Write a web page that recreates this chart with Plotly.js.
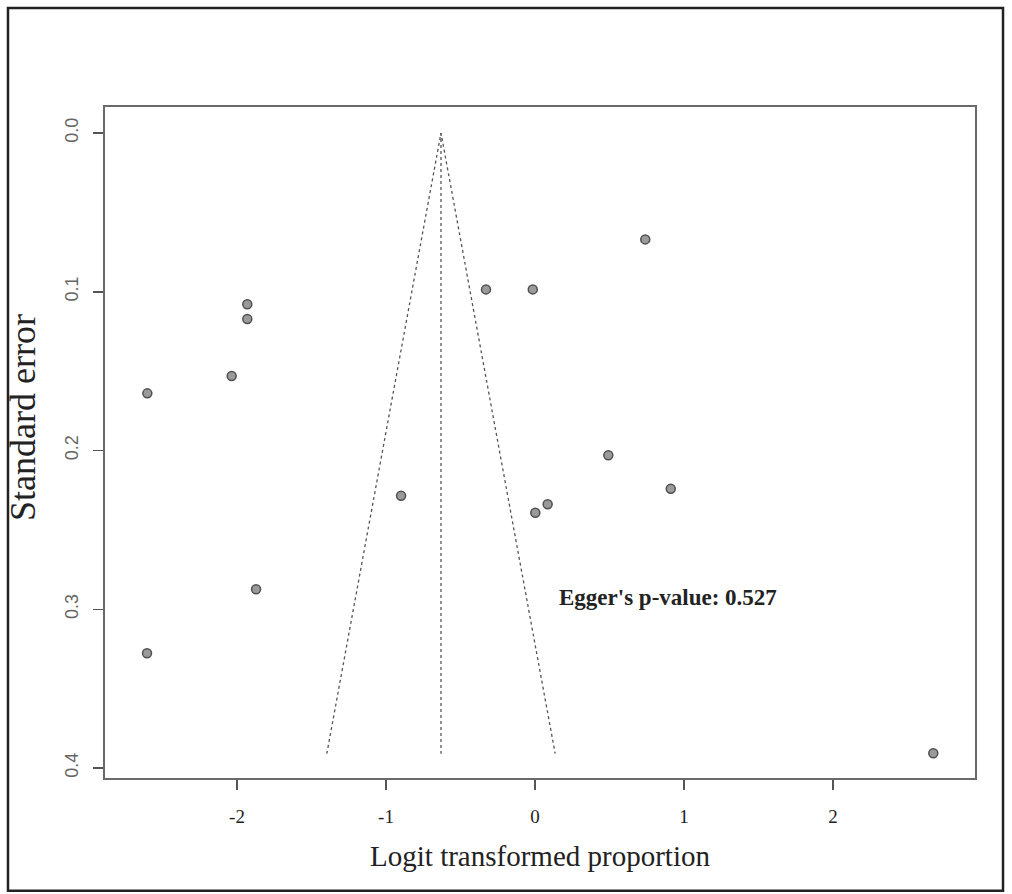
<!DOCTYPE html>
<html>
<head>
<meta charset="utf-8">
<script src="https://cdn.plot.ly/plotly-3.0.1.min.js"></script>
<style>html,body{margin:0;padding:0;background:#fff;}#chart{width:1012px;height:894px;}</style>
</head>
<body>
<div id="chart"></div>
<script>
// Study estimates (logit transformed proportion) and standard errors
const logitProp = [-2.602, -1.931, -1.931, -2.036, -1.872, -2.604, -0.899, -0.329, -0.015, 0.740, 0.492, 0.911, 0.002, 0.085, 2.673];
const stdError  = [0.164, 0.1079, 0.1172, 0.1531, 0.2874, 0.3277, 0.2285, 0.0985, 0.0985, 0.0670, 0.2030, 0.2241, 0.2392, 0.2339, 0.3907];
// Pooled estimate and funnel limits
const pooled = -0.631;
const maxSE = 0.391;
const zCrit = 1.96;
const eggerText = "Egger's p-value: 0.527";
const yTitle = 'Standard error';
const xTitle = 'Logit transformed proportion';
const xTicks = [-2, -1, 0, 1, 2];
const yTicks = [0.0, 0.1, 0.2, 0.3, 0.4];

const funnelX = [pooled - zCrit * maxSE, pooled, pooled + zCrit * maxSE];
const funnelY = [maxSE, 0, maxSE];

const lineStyle = {color: '#555', width: 1.3, dash: 'dot'};
const traces = [
  {x: funnelX, y: funnelY, mode: 'lines', line: lineStyle, hoverinfo: 'skip'},
  {x: [pooled, pooled], y: [0, maxSE], mode: 'lines', line: lineStyle, hoverinfo: 'skip'},
  {x: logitProp, y: stdError, mode: 'markers', type: 'scatter',
   marker: {size: 9, color: '#9a9a9a', line: {color: '#505050', width: 1.5}}}
];

const serif = 'Liberation Serif, Times New Roman, serif';
const layout = {
  width: 1012, height: 894,
  margin: {l: 105, r: 37, t: 107, b: 116},
  paper_bgcolor: '#fff', plot_bgcolor: '#fff',
  showlegend: false,
  xaxis: {
    range: [-2.886, 2.953], tickvals: xTicks, ticktext: xTicks.map(String),
    showgrid: false, zeroline: false, showline: true, mirror: true,
    linecolor: '#6a6a6a', linewidth: 2,
    ticks: 'outside', ticklen: 10, tickwidth: 1.5, tickcolor: '#555',
    tickfont: {family: serif, size: 19, color: '#222'},
    ticklabelstandoff: 10,
    title: {text: xTitle, font: {family: serif, size: 29, color: '#222'}, standoff: 20}
  },
  yaxis: {
    range: [0.4063, -0.0164], tickvals: yTicks, ticktext: yTicks.map(v => v.toFixed(1)),
    showgrid: false, zeroline: false, showline: true, mirror: true,
    linecolor: '#6a6a6a', linewidth: 2,
    ticks: 'outside', ticklen: 10, tickwidth: 1.5, tickcolor: '#555',
    tickangle: -90,
    tickfont: {family: 'Liberation Sans, Arial, sans-serif', size: 18, color: '#666'},
    ticklabelstandoff: 8
  },
  annotations: [{
    x: 0.148, y: 0.2923, xref: 'x', yref: 'y', xanchor: 'left', yanchor: 'middle',
    text: '<b>' + eggerText + '</b>', showarrow: false,
    font: {family: serif, size: 23, color: '#222'}
  }, {
    x: -0.095, y: 0.537, xref: 'paper', yref: 'paper', xanchor: 'center', yanchor: 'middle',
    text: yTitle, textangle: -90, showarrow: false,
    font: {family: serif, size: 36, color: '#222'}
  }],
  shapes: [{
    type: 'rect', xref: 'paper', yref: 'paper',
    x0: -0.1115, x1: 1.0322, y0: -0.168, y1: 1.1475,
    line: {color: '#222', width: 2.5}
  }]
};

Plotly.newPlot('chart', traces, layout, {displayModeBar: false, staticPlot: true});
</script>
</body>
</html>
